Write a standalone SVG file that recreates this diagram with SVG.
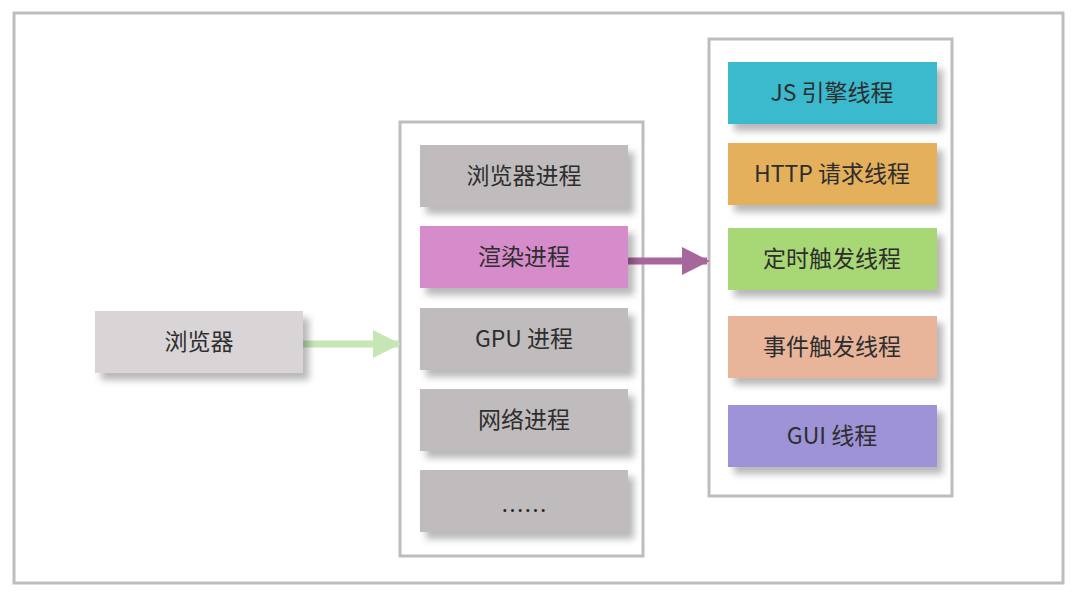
<svg xmlns="http://www.w3.org/2000/svg" width="1080" height="600" viewBox="0 0 1080 600">
<defs>
<filter id="sh" x="-10%" y="-20%" width="130%" height="160%">
<feDropShadow dx="6" dy="7" stdDeviation="3.5" flood-color="#000" flood-opacity="0.28"/>
</filter>
<marker id="ag" viewBox="0 0 10 10" refX="9" refY="5" markerWidth="4" markerHeight="4" markerUnits="strokeWidth" orient="auto"><path d="M0,0 L10,5 L0,10 z" fill="#c6e6b6"/></marker>
<marker id="ap" viewBox="0 0 10 10" refX="9" refY="5" markerWidth="4" markerHeight="4" markerUnits="strokeWidth" orient="auto"><path d="M0,0 L10,5 L0,10 z" fill="#a6679c"/></marker>
</defs>
<style>
.frame{fill:#fff;stroke:#bdbdbd;stroke-width:3}
.box{filter:url(#sh)}
.t{font-family:"Noto Sans CJK SC","Noto Sans",sans-serif;font-size:23px;fill:#2e2e2e;text-anchor:middle;dominant-baseline:central}
</style>
<rect width="1080" height="600" fill="#fff"/>
<rect class="frame" x="14" y="13" width="1049" height="570"/>
<rect class="frame" x="400" y="122" width="243" height="434"/>
<rect class="frame" x="709" y="39" width="243" height="457"/>
<g id="connectors">
<line x1="303" y1="344" x2="398" y2="344" stroke="#c6e6b6" stroke-width="7" marker-end="url(#ag)"/>
<line x1="628" y1="261" x2="707" y2="261" stroke="#a6679c" stroke-width="7" marker-end="url(#ap)"/>
</g>
<g id="browser"><rect class="box" x="95" y="311" width="208" height="62" fill="#d9d4d6"/><text class="t" x="199" y="340">浏览器</text></g>
<g id="p-browser"><rect class="box" x="420" y="145" width="208" height="62" fill="#c0bcbd"/><text class="t" x="524" y="174">浏览器进程</text></g>
<g id="p-render"><rect class="box" x="420" y="226" width="208" height="62" fill="#d68bcb"/><text class="t" x="524" y="255">渲染进程</text></g>
<g id="p-gpu"><rect class="box" x="420" y="308" width="208" height="62" fill="#c0bcbd"/><text class="t" x="524" y="337">GPU 进程</text></g>
<g id="p-net"><rect class="box" x="420" y="389" width="208" height="62" fill="#c0bcbd"/><text class="t" x="524" y="418">网络进程</text></g>
<g id="p-more"><rect class="box" x="420" y="470" width="208" height="62" fill="#c0bcbd"/><text class="t" x="524" y="509">……</text></g>
<g id="t-js"><rect class="box" x="728" y="62" width="209" height="62" fill="#3ab9cd"/><text class="t" x="832" y="91">JS 引擎线程</text></g>
<g id="t-http"><rect class="box" x="728" y="143" width="209" height="62" fill="#e4b05c"/><text class="t" x="832" y="172">HTTP 请求线程</text></g>
<g id="t-timer"><rect class="box" x="728" y="228" width="209" height="62" fill="#a8d774"/><text class="t" x="832" y="257">定时触发线程</text></g>
<g id="t-event"><rect class="box" x="728" y="316" width="209" height="62" fill="#e8b49a"/><text class="t" x="832" y="345">事件触发线程</text></g>
<g id="t-gui"><rect class="box" x="728" y="405" width="209" height="62" fill="#9d93d6"/><text class="t" x="832" y="434">GUI 线程</text></g>
</svg>
